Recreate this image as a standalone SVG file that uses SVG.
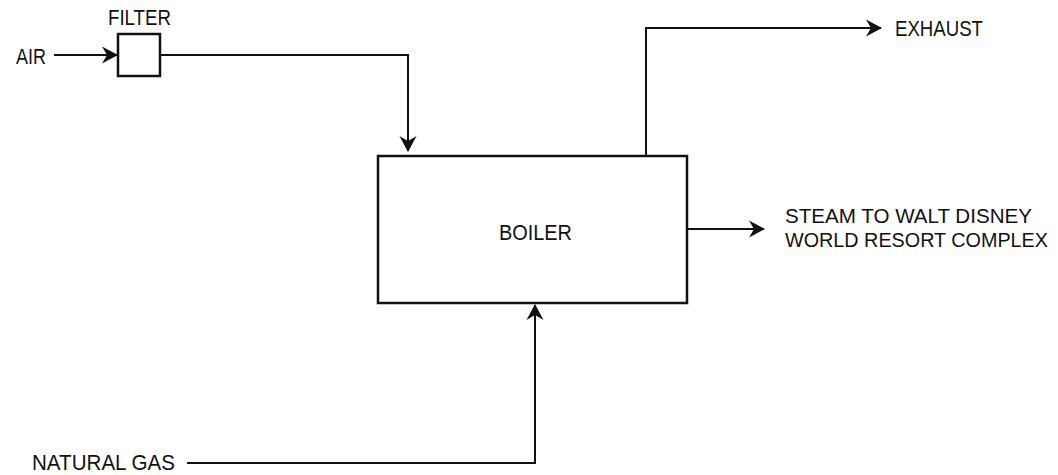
<svg xmlns="http://www.w3.org/2000/svg" width="1058" height="475" viewBox="0 0 1058 475">
<style>
.box{fill:#fff;stroke:#111;stroke-width:2.5}
.ln{fill:none;stroke:#111;stroke-width:2;marker-end:url(#ah)}
text{font-family:"Liberation Sans",Arial,sans-serif;font-size:22px;fill:#111}
.sm{font-size:20px}
</style>
<defs>
<marker id="ah" markerUnits="userSpaceOnUse" viewBox="-17 -10 18 20" refX="0" refY="0" markerWidth="18" markerHeight="20" orient="auto">
<path d="M1,0 L-15,-8.5 L-10,0 L-15,8.5 Z" fill="#111"/>
</marker>
</defs>
<rect width="1058" height="475" fill="#fff"/>
<g id="connectors">
<path class="ln" d="M54,55 H117"/>
<path class="ln" d="M160,55 H408 V151"/>
<path class="ln" d="M646,156 V28 H881"/>
<path class="ln" d="M687,229 H764"/>
<path class="ln" d="M187,463 H535 V305"/>
</g>
<g id="filter">
<rect class="box" x="118" y="34" width="42" height="42"/>
<text x="108" y="25" textLength="63" lengthAdjust="spacingAndGlyphs">FILTER</text>
</g>
<g id="boiler">
<rect class="box" x="378" y="156" width="309" height="147"/>
<text x="499" y="240" textLength="73" lengthAdjust="spacingAndGlyphs">BOILER</text>
</g>
<g id="air">
<text x="16" y="64" textLength="30" lengthAdjust="spacingAndGlyphs">AIR</text>
</g>
<g id="exhaust">
<text x="895" y="36" textLength="88" lengthAdjust="spacingAndGlyphs">EXHAUST</text>
</g>
<g id="steam">
<text class="sm" x="785" y="223" textLength="247" lengthAdjust="spacingAndGlyphs">STEAM TO WALT DISNEY</text>
<text class="sm" x="785" y="247" textLength="263" lengthAdjust="spacingAndGlyphs">WORLD RESORT COMPLEX</text>
</g>
<g id="gas">
<text x="32" y="470" textLength="143" lengthAdjust="spacingAndGlyphs">NATURAL GAS</text>
</g>
</svg>
